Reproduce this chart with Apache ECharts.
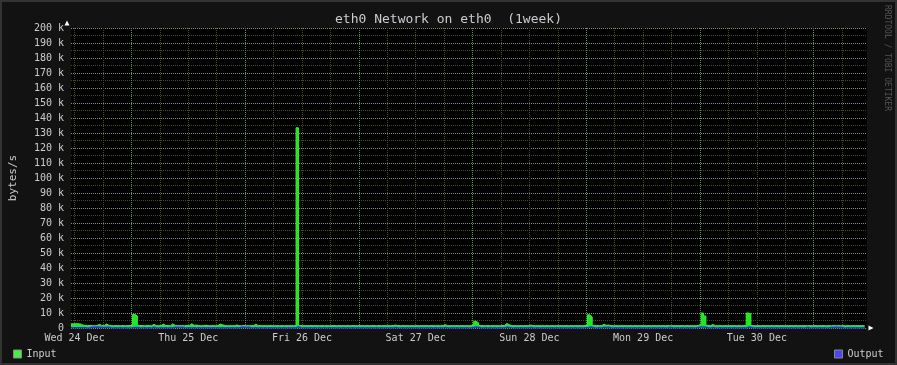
<!DOCTYPE html>
<html>
<head>
<meta charset="utf-8">
<script src="https://cdn.jsdelivr.net/npm/echarts@6/dist/echarts.min.js"></script>
<style>
html,body{margin:0;padding:0;background:#121212;}
#wrap{position:relative;width:897px;height:365px;}
#c{width:897px;height:365px;}
#frame{position:absolute;left:0;top:0;width:897px;height:365px;box-sizing:border-box;border:2px solid #333;pointer-events:none;}
</style>
</head>
<body>
<div id="wrap"><div id="c"></div><div id="frame"></div></div>
<script>
// ---- data (hours are counted from Wed 24 Dec 00:00) ----
const START_HOUR = 11.25;          // left edge of the graph
const END_HOUR = 179.25;           // right edge (1 week later)
const STEP_HOURS = 0.5;            // 30-minute samples

// Input, k bytes/s, one value per 30 minutes
const inputK = [
  2.8,2.9,2.8,2.7,2.0,1.6,1.6,1.7,1.6,1.5,1.6,2.5,1.7,1.6,2.7,1.8,1.6,1.5,1.6,1.6,1.5,1.6,1.5,1.6,
  1.6,1.7,9.0,8.0,1.7,1.6,1.5,1.6,1.6,1.5,2.5,1.6,1.5,1.6,2.6,1.7,1.6,1.5,2.8,1.7,1.6,1.5,1.6,1.5,
  1.6,1.7,2.8,1.8,2.0,1.6,1.5,1.6,1.8,1.6,1.5,1.6,1.5,1.6,2.6,2.2,1.6,1.5,1.6,1.5,1.6,2.0,1.6,1.5,
  1.6,1.5,1.6,1.5,1.6,2.5,1.7,1.6,1.5,1.6,1.5,1.6,1.6,1.5,1.6,1.5,1.6,1.5,1.6,1.5,1.6,1.5,1.6,133.5,
  1.6,1.5,1.6,1.5,1.6,1.6,1.5,1.6,1.5,1.6,1.5,1.6,1.5,1.6,1.6,1.5,1.6,1.5,1.6,1.5,1.6,1.5,1.6,1.5,
  1.6,1.5,1.6,1.5,1.6,1.5,1.6,1.6,1.5,1.6,1.5,1.6,1.5,1.6,1.5,1.6,2.0,1.6,1.5,1.6,1.5,1.6,1.5,1.6,
  1.5,1.6,1.5,1.6,1.5,1.6,1.5,1.6,1.6,1.5,1.6,1.5,1.6,2.2,1.6,1.5,1.6,1.5,1.6,1.5,1.6,1.5,1.6,1.5,
  1.6,2.6,4.5,3.5,1.7,1.6,1.5,1.6,1.5,1.6,1.5,1.6,1.5,1.6,1.7,3.0,2.2,1.6,1.5,1.6,1.5,1.6,1.5,1.6,
  1.5,2.0,1.6,1.5,1.6,1.5,1.6,1.5,1.6,1.5,1.6,1.5,1.6,1.5,1.6,1.5,1.6,1.5,1.6,1.5,1.6,1.5,1.6,1.5,
  1.6,1.7,8.8,7.5,1.7,1.6,1.5,1.6,2.5,1.8,2.0,1.6,1.5,1.6,1.5,1.6,1.5,1.6,1.5,1.6,1.5,1.6,1.5,1.6,
  1.5,1.6,1.5,1.6,1.5,1.6,1.5,1.6,1.5,1.6,1.5,1.6,1.5,1.6,1.5,1.6,1.5,1.6,1.5,1.6,1.5,1.6,1.5,1.6,
  1.7,2.8,10.0,8.0,1.8,1.6,2.3,1.6,1.5,1.6,1.5,1.6,1.5,1.6,1.5,1.6,1.5,1.6,1.5,1.6,1.5,10.0,9.5,1.6,
  1.5,1.6,1.5,1.6,1.5,1.6,1.5,1.6,1.5,1.6,1.5,1.6,1.5,1.6,1.5,1.6,1.5,1.6,1.5,1.6,1.5,1.6,1.5,1.6,
  1.5,1.6,1.5,1.6,1.5,1.6,1.5,1.6,1.5,1.6,1.5,1.6,1.5,1.6,1.5,1.6,1.5,1.6,1.5,1.6,1.5,1.6,1.5,1.6
];

// Output, k bytes/s, one value per 30 minutes
const outputK = [
  0.1,0.1,0.2,0.1,0.1,0.1,0.0,0.1,0.5,0.5,0.6,0.5,0.5,0.4,0.5,0.5,0.1,0.0,0.1,0.0,0.1,0.0,0.1,0.0,
  0.0,0.1,0.4,0.3,0.1,0.0,0.1,0.0,0.1,0.0,0.5,0.1,0.0,0.1,0.0,0.1,0.0,0.1,0.0,0.5,0.5,0.4,0.5,0.1,
  0.0,0.1,0.0,0.1,0.0,0.1,0.0,0.1,0.0,0.1,0.0,0.1,0.0,0.1,0.0,0.1,0.0,0.1,0.0,0.1,0.0,0.1,0.0,0.5,
  0.5,0.4,0.5,0.1,0.0,0.1,0.0,0.1,0.0,0.1,0.0,0.1,0.0,0.1,0.0,0.1,0.0,0.1,0.0,0.1,0.0,0.1,0.0,0.8,
  0.1,0.0,0.1,0.0,0.1,0.0,0.1,0.0,0.1,0.0,0.1,0.0,0.1,0.0,0.1,0.0,0.1,0.0,0.1,0.0,0.1,0.0,0.1,0.0,
  0.1,0.0,0.1,0.0,0.1,0.0,0.1,0.0,0.1,0.0,0.1,0.0,0.1,0.0,0.1,0.0,0.4,0.1,0.0,0.1,0.0,0.1,0.0,0.1,
  0.0,0.1,0.0,0.1,0.0,0.1,0.0,0.1,0.0,0.1,0.0,0.1,0.0,0.4,0.1,0.0,0.1,0.0,0.1,0.0,0.1,0.0,0.1,0.0,
  0.1,0.4,0.7,0.5,0.1,0.0,0.1,0.0,0.1,0.0,0.1,0.0,0.1,0.0,0.1,0.6,0.4,0.1,0.0,0.1,0.0,0.1,0.0,0.1,
  0.0,0.4,0.1,0.0,0.1,0.0,0.1,0.0,0.1,0.0,0.1,0.0,0.1,0.0,0.1,0.0,0.1,0.0,0.1,0.0,0.1,0.0,0.1,0.0,
  0.1,0.1,0.6,0.5,0.1,0.0,0.1,0.0,0.5,0.4,0.5,0.1,0.0,0.1,0.0,0.1,0.0,0.1,0.0,0.1,0.0,0.1,0.0,0.1,
  0.0,0.1,0.0,0.1,0.0,0.1,0.0,0.1,0.0,0.1,0.0,0.1,0.4,0.1,0.0,0.1,0.0,0.1,0.0,0.1,0.0,0.1,0.0,0.1,
  0.4,0.6,0.7,0.5,0.1,0.0,0.4,0.1,0.0,0.1,0.0,0.1,0.0,0.1,0.0,0.1,0.0,0.1,0.0,0.1,0.0,0.6,0.5,0.1,
  0.0,0.1,0.0,0.1,0.0,0.1,0.0,0.1,0.0,0.1,0.0,0.1,0.0,0.1,0.0,0.1,0.0,0.1,0.0,0.1,0.0,0.1,0.4,0.1,
  0.0,0.1,0.0,0.1,0.0,0.1,0.0,0.1,0.4,0.4,0.5,0.4,0.5,0.1,0.0,0.1,0.0,0.1,0.0,0.1,0.0,0.1,0.0,0.1
];

// Axis ticks
const majorHours = [24, 48, 72, 96, 120, 144, 168];              // midnights
const minorHours = [12, 18, 30, 36, 42, 54, 60, 66, 78, 84, 90, 102, 108, 114,
                    126, 132, 138, 150, 156, 162, 174];           // every 6 hours
const labelHours = [12, 36, 60, 84, 108, 132, 156];              // noons
const dayLabels = ['Wed 24 Dec', 'Thu 25 Dec', 'Fri 26 Dec', 'Sat 27 Dec',
                   'Sun 28 Dec', 'Mon 29 Dec', 'Tue 30 Dec'];
const Y_MAX = 200, Y_STEP = 10;

// ---- chart ----
const MONO = "'DejaVu Sans Mono', monospace";
const TXT = '#cccccc';
const MINOR_C = '#4a4a1c';
const MAJOR_H = '#84907a';
const MAJOR_V = '#58925a';

const toPairs = arr => arr.map((v, i) => [START_HOUR + i * STEP_HOURS, v]);

const chart = echarts.init(document.getElementById('c'), null, {renderer: 'canvas'});

const baseX = {
  type: 'value', min: START_HOUR, max: END_HOUR, position: 'bottom',
  axisLine: {show: false}, axisLabel: {show: false}
};

const legendBase = {
  padding: 0, top: 349, itemWidth: 8, itemHeight: 8, icon: 'rect',
  itemStyle: {borderColor: '#888', borderWidth: 1},
  textStyle: {color: TXT, fontFamily: MONO, fontSize: 10}, selectedMode: false
};

chart.setOption({
  backgroundColor: '#121212',
  animation: false,
  title: {
    text: 'eth0 Network on eth0  (1week)',
    left: 'center', top: 8,
    textStyle: {color: TXT, fontFamily: MONO, fontSize: 13, fontWeight: 'normal'}
  },
  grid: {left: 67, right: 30, top: 28, bottom: 37, show: true, backgroundColor: '#000', borderWidth: 0},
  legend: [
    Object.assign({}, legendBase, {data: ['Input'], left: 13}),
    Object.assign({}, legendBase, {data: ['Output'], left: 834})
  ],
  xAxis: [
    Object.assign({}, baseX, {
      axisTick: {show: false, customValues: minorHours},
      splitLine: {show: true, lineStyle: {color: MINOR_C, width: 1, type: [1, 1]}}
    }),
    Object.assign({}, baseX, {
      axisTick: {show: false, customValues: majorHours},
      splitLine: {show: true, lineStyle: {color: MAJOR_V, width: 1, type: [1, 1]}}
    }),
    Object.assign({}, baseX, {
      axisTick: {show: false, customValues: labelHours},
      splitLine: {show: false},
      axisLabel: {
        show: true, customValues: labelHours, margin: 5,
        color: TXT, fontFamily: MONO, fontSize: 10,
        formatter: v => dayLabels[labelHours.indexOf(v)] || ''
      }
    })
  ],
  yAxis: {
    type: 'value', min: 0, max: Y_MAX, interval: Y_STEP,
    name: 'bytes/s', nameLocation: 'middle', nameGap: 52,
    nameTextStyle: {color: TXT, fontFamily: MONO, fontSize: 11},
    axisLine: {show: false}, axisTick: {show: false},
    axisLabel: {color: TXT, fontFamily: MONO, fontSize: 10, margin: 7,
      formatter: v => v === 0 ? '0' : v + ' k'},
    splitLine: {show: true, lineStyle: {color: MAJOR_H, width: 1, type: [1, 1]}},
    minorTick: {show: false, splitNumber: 2},
    minorSplitLine: {show: true, lineStyle: {color: MINOR_C, width: 1, type: [1, 1]}}
  },
  series: [
    {
      name: 'Input', type: 'line', xAxisIndex: 0, step: 'end', symbol: 'none',
      data: toPairs(inputK), color: '#44ee44',
      lineStyle: {width: 1, color: '#33f033'},
      areaStyle: {color: '#1ee81e', opacity: 1},
      z: 3
    },
    {
      name: 'Output', type: 'line', xAxisIndex: 0, step: 'end', symbol: 'none',
      data: toPairs(outputK), color: '#4848f0',
      lineStyle: {width: 1.5, color: '#2a2aff'},
      z: 4
    }
  ],
  graphic: [
    {type: 'polygon', shape: {points: [[67, 20.5], [64.5, 25.5], [69.5, 25.5]]}, style: {fill: '#ffffff'}},
    {type: 'polygon', shape: {points: [[873.5, 328], [868.5, 325.5], [868.5, 330.5]]}, style: {fill: '#ffffff'}},
    {
      type: 'text', x: 891, y: 5, rotation: -Math.PI / 2,
      style: {text: 'RRDTOOL / TOBI OETIKER', fill: '#555', font: "8px 'DejaVu Sans Mono', monospace",
        align: 'left', verticalAlign: 'top'}
    }
  ]
});
</script>
</body>
</html>
